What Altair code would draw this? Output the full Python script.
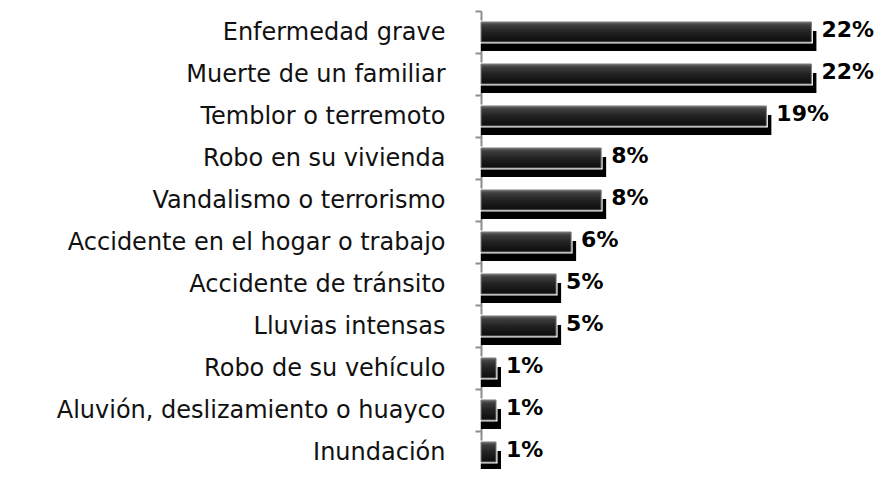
import altair as alt
import pandas as pd

categories = [
    "Enfermedad grave",
    "Muerte de un familiar",
    "Temblor o terremoto",
    "Robo en su vivienda",
    "Vandalismo o terrorismo",
    "Accidente en el hogar o trabajo",
    "Accidente de tránsito",
    "Lluvias intensas",
    "Robo de su vehículo",
    "Aluvión, deslizamiento o huayco",
    "Inundación",
]
values = [22, 22, 19, 8, 8, 6, 5, 5, 1, 1, 1]
labels = ["22%", "22%", "19%", "8%", "8%", "6%", "5%", "5%", "1%", "1%", "1%"]

df = pd.DataFrame({"cat": categories, "value": values, "label": labels})

FONT = "DejaVu Sans"

y_enc = alt.Y(
    "cat:N",
    sort=None,
    title=None,
    scale=alt.Scale(range=[0, 462], paddingInner=0, paddingOuter=0),
    axis=alt.Axis(
        domainColor="#8c8c8c",
        domainWidth=2,
        tickColor="#8c8c8c",
        tickWidth=2,
        tickSize=6,
        tickBand="extent",
        labelFont=FONT,
        labelFontSize=24,
        labelColor="#111111",
        labelPadding=30,
        labelLimit=600,
    ),
)
x_scale = alt.Scale(domain=[0, 26.5], nice=False, zero=True)
x_enc = alt.X("value:Q", scale=x_scale, axis=None)
x2_enc = alt.X2(datum=0)

base = alt.Chart(df)

shadow = base.mark_bar(color="black", size=20, xOffset=5, yOffset=9).encode(
    y=y_enc, x=x_enc, x2=x2_enc
)
halo = base.mark_bar(color="white", stroke="white", strokeWidth=3, size=20).encode(
    y=y_enc, x=x_enc, x2=x2_enc
)
grad = alt.Gradient(
    gradient="linear",
    x1=0, x2=0, y1=0, y2=1,
    stops=[
        alt.GradientStop(offset=0, color="#6e6e6e"),
        alt.GradientStop(offset=0.15, color="#3e3e3e"),
        alt.GradientStop(offset=0.5, color="#222222"),
        alt.GradientStop(offset=1, color="#0c0c0c"),
    ],
)
main = base.mark_bar(fill=grad, stroke="#7a7a7a", strokeWidth=1, size=20).encode(
    y=y_enc, x=x_enc, x2=x2_enc
)
text = base.mark_text(
    align="left", baseline="middle", dx=10, dy=-2,
    font=FONT, fontSize=22, fontWeight="bold", color="black",
).encode(y=y_enc, x=x_enc, text="label:N")

chart = (
    alt.layer(shadow, halo, main, text)
    .properties(
        width=398,
        height=458,
        autosize=alt.AutoSizeParams(type="none"),
        padding={"left": 473, "top": 3, "right": 0, "bottom": 0},
    )
    .configure_view(stroke=None)
)

chart.save("out.html", embed_options={"renderer": "svg", "actions": False})
